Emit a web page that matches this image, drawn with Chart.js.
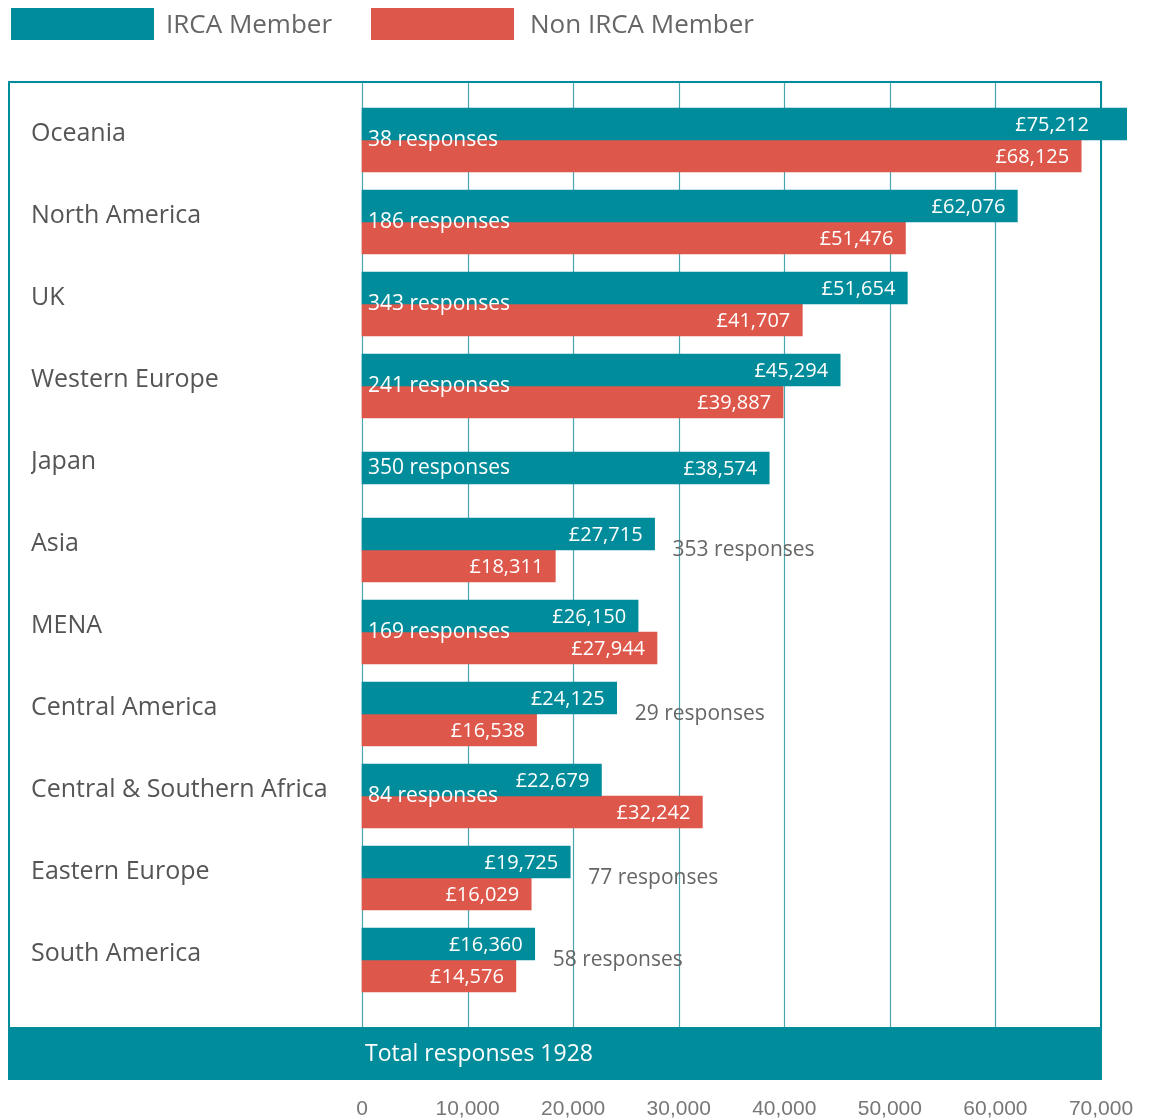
<!DOCTYPE html>
<html>
<head>
<meta charset="utf-8">
<script src="https://cdn.jsdelivr.net/npm/chart.js@4.4.1/dist/chart.umd.min.js"></script>
<style>
  body { margin: 0; background: #fff; }
  #wrap { position: relative; width: 1153px; height: 1120px; }
  .key { position: absolute; top: 8px; width: 143px; height: 32px; }
  .keytext { position: absolute; top: 6px; font: 26px "Open Sans", sans-serif; color: #666; line-height: 34px; }
</style>
</head>
<body>
<div id="wrap">
  <canvas id="myChart" width="1153" height="1120"></canvas>
  <div class="key" style="left:11px;background:#008c9a"></div>
  <div class="keytext" style="left:166px">IRCA Member</div>
  <div class="key" style="left:371px;background:#dd574b"></div>
  <div class="keytext" style="left:530px">Non IRCA Member</div>
</div>
<script>
const regions = ['Oceania', 'North America', 'UK', 'Western Europe', 'Japan', 'Asia', 'MENA',
  'Central America', 'Central & Southern Africa', 'Eastern Europe', 'South America'];
const ircaMember = [75212, 62076, 51654, 45294, 38574, 27715, 26150, 24125, 22679, 19725, 16360];
const nonIrcaMember = [68125, 51476, 41707, 39887, null, 18311, 27944, 16538, 32242, 16029, 14576];
const responses = [38, 186, 343, 241, 350, 353, 169, 29, 84, 77, 58];
// true = label written inside the bars, false = after the bars
const responsesInside = [true, true, true, true, true, false, true, false, true, false, false];
const xTicks = [0, 10000, 20000, 30000, 40000, 50000, 60000, 70000];
const totalResponses = 1928;

const teal = '#008c9a';
const red = '#dd574b';

// frame, grid lines and the "total responses" strip
const framePlugin = {
  id: 'frame',
  beforeDatasetsDraw(chart) {
    const ctx = chart.ctx;
    const xs = chart.scales.x;
    const area = chart.chartArea;
    const top = area.top - 17;
    const bottom = area.bottom + 27;
    const right = xs.getPixelForValue(xTicks[xTicks.length - 1]);
    ctx.save();
    ctx.strokeStyle = '#4aa6b1';
    ctx.lineWidth = 1.2;
    xTicks.forEach(function (v) {
      const px = Math.round(xs.getPixelForValue(v)) + 0.5;
      ctx.beginPath();
      ctx.moveTo(px, top);
      ctx.lineTo(px, bottom);
      ctx.stroke();
    });
    ctx.strokeStyle = teal;
    ctx.lineWidth = 2;
    ctx.strokeRect(9, top, right - 9, bottom - top);
    ctx.fillStyle = teal;
    ctx.fillRect(8, bottom, right - 7, 52);
    ctx.fillStyle = '#fff';
    ctx.font = '23px "Liberation Sans Narrow", "Open Sans", sans-serif';
    ctx.textBaseline = 'middle';
    ctx.textAlign = 'left';
    ctx.fillText('Total responses ' + totalResponses, area.left + 3, bottom + 26);
    ctx.restore();
  }
};

const labelPlugin = {
  id: 'labels',
  afterDatasetsDraw(chart) {
    const ctx = chart.ctx;
    const xs = chart.scales.x;
    const ys = chart.scales.y;
    ctx.save();
    ctx.textBaseline = 'middle';
    // money labels at the end of each bar
    ctx.font = '20px "Open Sans", sans-serif';
    chart.data.datasets.forEach(function (ds, i) {
      const meta = chart.getDatasetMeta(i);
      meta.data.forEach(function (bar, j) {
        if (ds.data[j] == null) return;
        const p = bar.getProps(['x', 'y'], true);
        const end = Math.min(p.x, xs.right);
        ctx.fillStyle = '#fff';
        ctx.textAlign = 'right';
        ctx.fillText('£' + ds.data[j].toLocaleString('en-US'), end - 12, p.y + 1);
      });
    });
    // response counts
    ctx.font = '21px "Open Sans", sans-serif';
    const tealBars = chart.getDatasetMeta(0).data;
    responses.forEach(function (n, j) {
      const y = ys.getPixelForValue(j);
      ctx.textAlign = 'left';
      if (responsesInside[j]) {
        ctx.fillStyle = '#fff';
        ctx.fillText(n + ' responses', xs.left + 6, y);
      } else {
        ctx.fillStyle = '#666';
        ctx.fillText(n + ' responses', tealBars[j].x + 18, y);
      }
    });
    ctx.restore();
  }
};

const ctx = document.getElementById('myChart');
const chart = new Chart(ctx, {
  type: 'bar',
  data: {
    labels: regions,
    datasets: [
      {
        label: 'IRCA Member',
        data: ircaMember,
        backgroundColor: teal,
        barThickness: 32,
        skipNull: true,
        clip: {left: 5, top: 5, right: 26, bottom: 5}
      },
      {
        label: 'Non IRCA Member',
        data: nonIrcaMember,
        backgroundColor: red,
        barThickness: 32,
        skipNull: true,
        clip: {left: 5, top: 5, right: 26, bottom: 5}
      }
    ]
  },
  options: {
    indexAxis: 'y',
    responsive: false,
    animation: false,
    layout: {
      padding: {left: 31, right: 52, top: 99, bottom: 0}
    },
    plugins: {
      legend: {display: false},
      tooltip: {enabled: false}
    },
    scales: {
      x: {
        min: 0,
        max: 70000,
        afterBuildTicks: function (scale) {
          scale.ticks = xTicks.map(function (v) { return {value: v}; });
        },
        afterFit: function (scale) {
          scale.height = 119;
          scale.paddingLeft = 0;
          scale.paddingRight = 0;
        },
        grid: {display: false, drawTicks: false},
        border: {display: false},
        ticks: {
          padding: 96,
          maxRotation: 0,
          autoSkip: false,
          color: '#777',
          font: {family: '"Liberation Sans Narrow", sans-serif', size: 21},
          callback: function (v) { return v.toLocaleString('en-US'); }
        }
      },
      y: {
        afterFit: function (scale) { scale.width = 331; },
        grid: {display: false, drawTicks: false},
        border: {display: false},
        ticks: {
          crossAlign: 'far',
          padding: 0,
          labelOffset: -6,
          color: '#555',
          font: {family: '"Open Sans", sans-serif', size: 25}
        }
      }
    }
  },
  plugins: [framePlugin, labelPlugin]
});
</script>
</body>
</html>
